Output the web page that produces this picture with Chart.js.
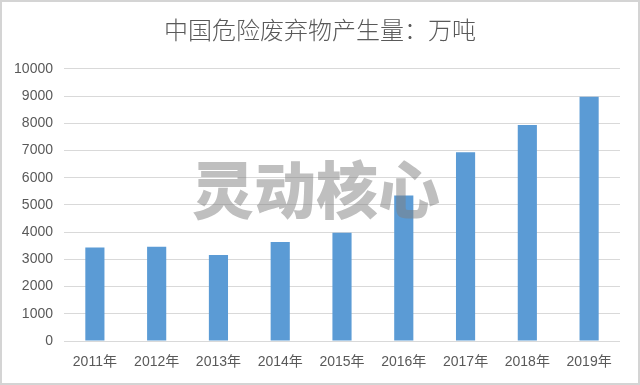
<!DOCTYPE html>
<html><head><meta charset="utf-8">
<script src="https://cdn.jsdelivr.net/npm/chart.js@4"></script>
<style>html,body{margin:0;padding:0;background:#fff;}#wrap{width:640px;height:385px;position:relative;}</style>
</head><body><div id="wrap"><canvas id="c" width="640" height="385"></canvas></div>
<script>
const categories = ["2011年","2012年","2013年","2014年","2015年","2016年","2017年","2018年","2019年"];
const values = [3431, 3465, 3157, 3634, 3976, 5347, 6937, 7932, 8970];
const titleText = "中国危险废弃物产生量：万吨";
const watermarkText = "灵动核心";

const frame = {
  id: 'frame',
  beforeDraw(chart) {
    const ctx = chart.ctx;
    ctx.save();
    ctx.fillStyle = '#fff';
    ctx.fillRect(0, 0, chart.width, chart.height);
    ctx.restore();
  },
  afterDraw(chart) {
    const ctx = chart.ctx;
    ctx.save();
    ctx.strokeStyle = '#d4d4d4';
    ctx.lineWidth = 2;
    ctx.strokeRect(1, 1, chart.width - 2, chart.height - 2);
    ctx.restore();
  }
};
const watermark = {
  id: 'watermark',
  afterDatasetsDraw(chart) {
    const ctx = chart.ctx;
    ctx.save();
    ctx.font = '900 62px "Noto Sans CJK SC"';
    ctx.fillStyle = 'rgba(128,128,128,0.5)';
    ctx.textAlign = 'center';
    ctx.textBaseline = 'middle';
    ctx.fillText(watermarkText, 316, 190);
    ctx.restore();
  }
};

new Chart(document.getElementById('c'), {
  type: 'bar',
  data: { labels: categories, datasets: [{ data: values, backgroundColor: '#5B9BD5', barPercentage: 0.31, categoryPercentage: 1 }] },
  options: {
    responsive: false, animation: false,
    layout: { padding: 0 },
    plugins: {
      legend: { display: false }, tooltip: { enabled: false },
      title: { display: true, text: titleText, color: '#595959', font: { family: '"Noto Sans CJK SC"', size: 24, weight: 300 }, padding: { top: 15, bottom: 25 } }
    },
    scales: {
      x: {
        grid: { display: false, drawTicks: false }, border: { display: false },
        ticks: { color: '#595959', font: { family: '"Liberation Sans", "Noto Sans CJK SC"', size: 14 }, padding: 13, maxRotation: 0 },
        afterFit(s) { s.height = 44; }
      },
      y: {
        min: 0, max: 10000,
        grid: { color: '#d9d9d9', lineWidth: 1, drawTicks: false }, border: { display: false },
        ticks: { stepSize: 1000, color: '#595959', font: { family: '"Liberation Sans", "Noto Sans"', size: 14 }, padding: 11, callback: (v) => String(v) },
        afterFit(s) { s.width = 64; }
      },
      yRight: {
        position: 'right', display: true, min: 0, max: 10000,
        grid: { display: false, drawTicks: false }, border: { display: false },
        ticks: { display: false },
        afterFit(s) { s.width = 20; }
      }
    }
  },
  plugins: [frame, watermark]
});
</script></body></html>
